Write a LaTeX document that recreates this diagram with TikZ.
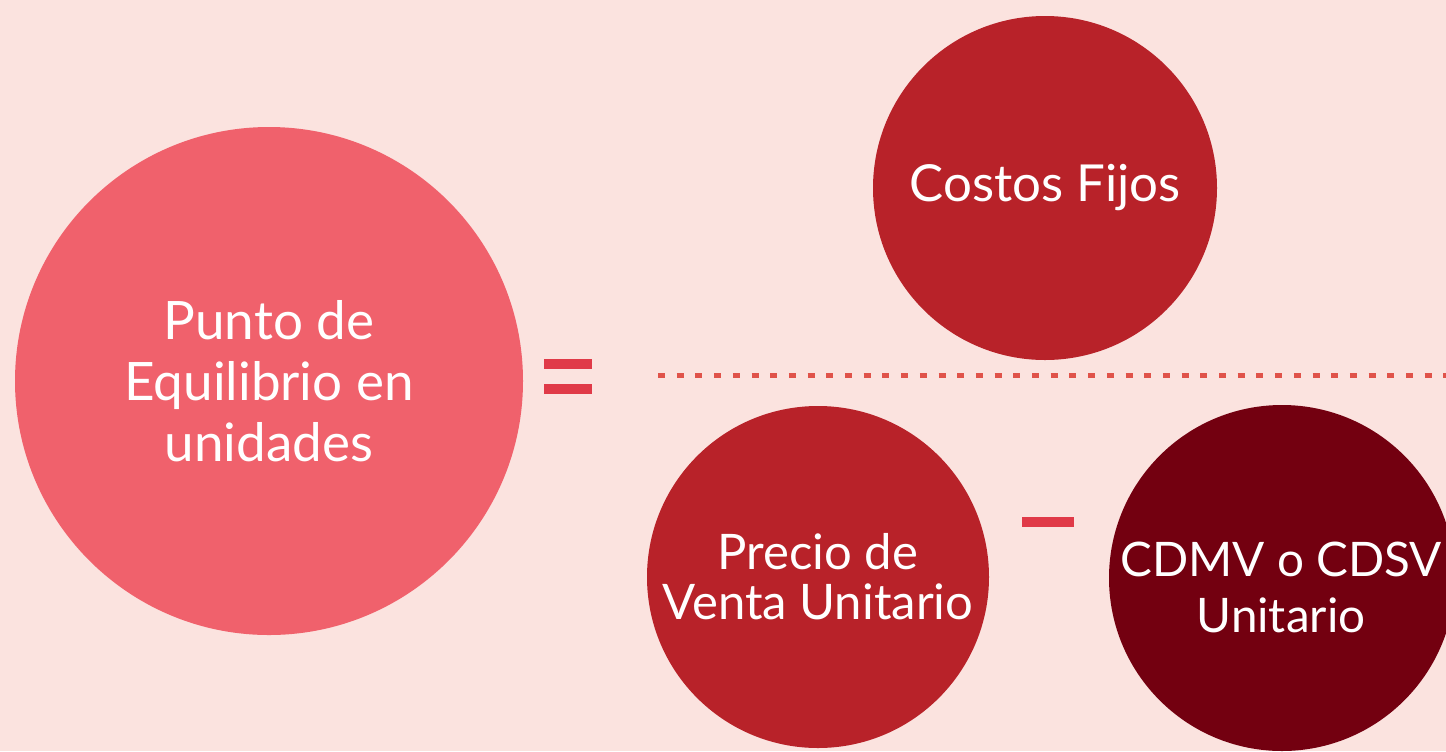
\documentclass[tikz,border=0pt]{standalone}
\usepackage{fontspec}
\setmainfont{Lato}
\definecolor{bg}{HTML}{FBE3DF}
\definecolor{pink}{HTML}{F0616C}
\definecolor{red}{HTML}{B82229}
\definecolor{maroon}{HTML}{730010}
\definecolor{sign}{HTML}{E03A48}
\definecolor{dots}{HTML}{E0534A}
\begin{document}
\begin{tikzpicture}[x=0.5pt,y=-0.5pt,
  bubble/.style={circle,inner sep=0pt,text=white,align=center,font=\fontsize{24}{30.5}\selectfont},
  bar/.style={fill=sign,draw=none}]
\fill[bg] (0,0) rectangle (1446,751);
\useasboundingbox (0,0) rectangle (1446,751);
\begin{scope}
\clip (0,0) rectangle (1446,751);
\node[bubble,fill=pink,minimum size=508pt*0.5,font=\fontsize{26.5}{30.5}\selectfont] (pe) at (269,381) {Punto de\\Equilibrio en\\unidades};
\node[bubble,fill=red,minimum size=344pt*0.5,font=\fontsize{25.5}{30}\selectfont] (cf) at (1045,188) {Costos Fijos};
\node[bubble,fill=red,minimum size=342pt*0.5,font=\fontsize{24.5}{25}\selectfont] (pv) at (818,577) {Precio de\\Venta Unitario};
\node[bubble,fill=maroon,minimum size=346pt*0.5] (cv) at (1282,578) {};
\node[text=white,align=center,font=\fontsize{23.8}{28}\selectfont] (cvt) at (1281,587) {CDMV o CDSV\\Unitario};
\end{scope}
\fill[bar] (544,359) rectangle (592,368.5);
\fill[bar] (544,384) rectangle (592,393.5);
\fill[bar] (1022,517) rectangle (1074,527);
\coordinate (d1) at (658,375);
\coordinate (d2) at (1446,375);
\draw[dots,line width=2.5pt,dash pattern=on 3.5pt off 5.85pt] (d1) -- (d2);
\end{tikzpicture}
\end{document}
